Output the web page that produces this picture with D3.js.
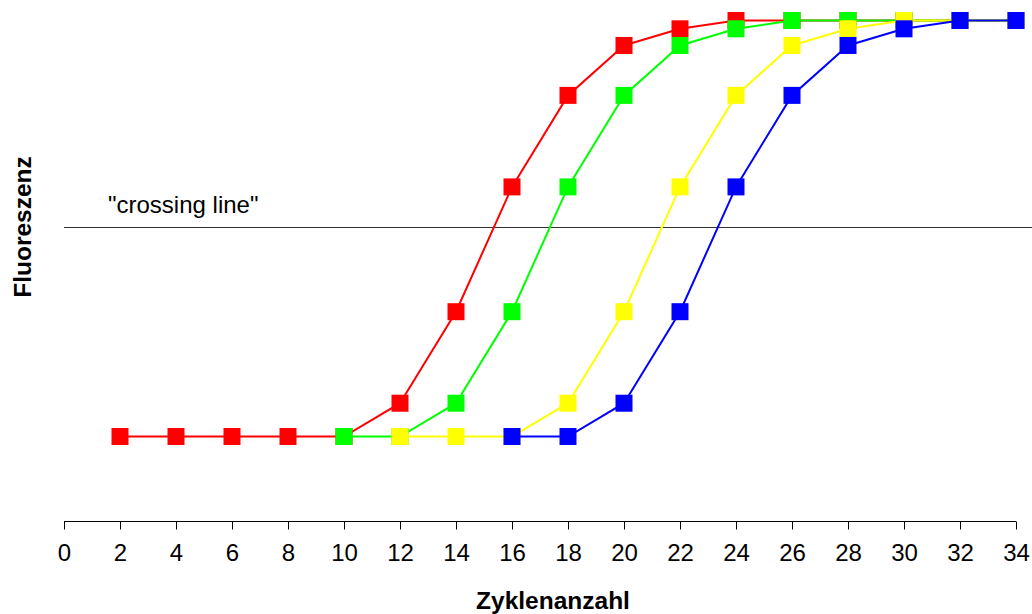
<!DOCTYPE html>
<html>
<head>
<meta charset="utf-8">
<script src="https://cdn.jsdelivr.net/npm/d3@7"></script>
<style>
  html, body { margin: 0; padding: 0; background: #fff; }
  svg { display: block; }
  text { font-family: "Liberation Sans", Arial, sans-serif; }
</style>
</head>
<body>
<svg id="chart" width="1032" height="614"></svg>
<script>
// Data (cycle numbers per series and fluorescence values)
const redCycles    = [2, 4, 6, 8, 10, 12, 14, 16, 18, 20, 22, 24, 26, 28, 30, 32, 34];
const redValues    = [0, 0, 0, 0, 0, 8, 30, 60, 82, 94, 98, 100, 100, 100, 100, 100, 100];
const greenCycles  = [10, 12, 14, 16, 18, 20, 22, 24, 26, 28, 30, 32, 34];
const greenValues  = [0, 0, 8, 30, 60, 82, 94, 98, 100, 100, 100, 100, 100];
const yellowCycles = [12, 14, 16, 18, 20, 22, 24, 26, 28, 30, 32, 34];
const yellowValues = [0, 0, 0, 8, 30, 60, 82, 94, 98, 100, 100, 100];
const blueCycles   = [16, 18, 20, 22, 24, 26, 28, 30, 32, 34];
const blueValues   = [0, 0, 8, 30, 60, 82, 94, 98, 100, 100];
const xTicks = [0, 2, 4, 6, 8, 10, 12, 14, 16, 18, 20, 22, 24, 26, 28, 30, 32, 34];
const crossingValue = 50.3;
const seriesNames = ["red", "green", "yellow", "blue"];
const seriesColors = ["#FF0000", "#00FF00", "#FFFF00", "#0000FF"];
const seriesCycles = [redCycles, greenCycles, yellowCycles, blueCycles];
const seriesValues = [redValues, greenValues, yellowValues, blueValues];

const svg = d3.select("#chart");

const x = d3.scaleLinear().domain([0, 34]).range([64, 1016]);
const y = d3.scaleLinear().domain([0, 100]).range([436.5, 20.5]);

// crossing line
const cy = Math.floor(y(crossingValue)) + 0.5;
svg.append("line")
  .attr("x1", 64).attr("x2", 1032)
  .attr("y1", cy).attr("y2", cy)
  .attr("stroke", "#333").attr("stroke-width", 1);

svg.append("text")
  .attr("x", 108).attr("y", 213)
  .attr("font-size", 24)
  .attr("fill", "#000")
  .text('"crossing line"');

// x axis
const axis = d3.axisBottom(x).tickValues(xTicks).tickSize(8).tickPadding(14).tickFormat(d3.format("d"));
const gAxis = svg.append("g").attr("transform", "translate(0,521.5)").call(axis);
gAxis.select(".domain").attr("stroke", "#000").attr("d", "M64,0H1016");
gAxis.selectAll(".tick line").attr("stroke", "#000");
gAxis.selectAll(".tick text")
  .attr("font-family", "Liberation Sans, Arial, sans-serif")
  .attr("font-size", 24)
  .attr("fill", "#000");

// axis titles
svg.append("text")
  .attr("x", 553).attr("y", 609)
  .attr("text-anchor", "middle")
  .attr("font-size", 24.5)
  .attr("font-weight", "bold")
  .text("Zyklenanzahl");

svg.append("text")
  .attr("transform", "translate(31,227) rotate(-90)")
  .attr("text-anchor", "middle")
  .attr("font-size", 24.5)
  .attr("font-weight", "bold")
  .text("Fluoreszenz");

// series
const line = d3.line().x(d => x(d[0])).y(d => y(d[1]));
const sq = 17;
seriesValues.forEach((vals, i) => {
  const pts = seriesCycles[i].map((c, j) => [c, vals[j]]);
  const g = svg.append("g").attr("class", "series-" + seriesNames[i]);
  g.append("path")
    .attr("d", line(pts))
    .attr("fill", "none")
    .attr("stroke", seriesColors[i])
    .attr("stroke-width", 2);
  g.selectAll("rect").data(pts).enter().append("rect")
    .attr("x", d => x(d[0]) - sq / 2)
    .attr("y", d => y(d[1]) - sq / 2)
    .attr("width", sq).attr("height", sq)
    .attr("fill", seriesColors[i]);
});
</script>
</body>
</html>
